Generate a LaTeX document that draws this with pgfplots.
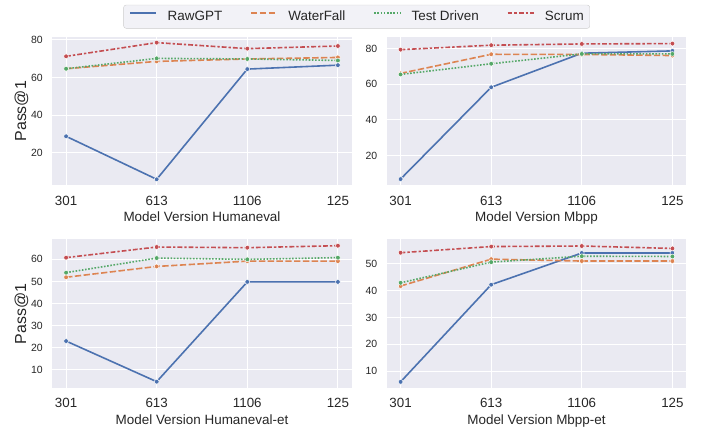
\documentclass[border=0pt]{standalone}
\usepackage{pgfplots}
\pgfplotsset{compat=1.18}
\usepackage{fontspec}
\setmainfont{Liberation Sans}

\definecolor{sbblue}{HTML}{4C72B0}
\definecolor{sborange}{HTML}{DD8452}
\definecolor{sbgreen}{HTML}{55A868}
\definecolor{sbred}{HTML}{C44E52}
\definecolor{sbbg}{HTML}{EAEAF2}
\definecolor{sbtext}{HTML}{262626}

\pgfplotsset{
  panel/.style={
    scale only axis, width=299bp, height=148.5bp,
    anchor=south west,
    axis background/.style={fill=sbbg},
    axis line style={draw=none},
    major tick length=0pt,
    grid=major, major grid style={white, line width=1bp},
    xmin=-0.15, xmax=3.15,
    xtick={0,1,2,3}, xticklabels={301,613,1106,125},
    /pgf/number format/assume math mode=true,
    xticklabel style={font=\fontsize{13.4}{15}\selectfont, text=sbtext, inner sep=0pt, anchor=north, yshift=-10bp},
    yticklabel style={font=\fontsize{10.5}{12}\selectfont, text=sbtext, inner sep=0pt, anchor=east, xshift=-9.5bp},
    every axis x label/.style={at={(axis description cs:0.5,0)}, anchor=north, yshift=-26bp,
      inner sep=0pt, font=\fontsize{13.5}{15}\selectfont, text=sbtext},
    every axis y label/.style={at={(axis description cs:-0.1037,0.5)}, anchor=center, rotate=90,
      inner sep=0pt, font=\fontsize{16}{18}\selectfont, text=sbtext},
    every axis plot/.append style={line width=1.6bp},
  },
  raw/.style={sbblue, solid, mark=*, mark size=2.4bp,
    mark options={solid, fill=sbblue, draw=white, line width=0.5bp}},
  wf/.style={sborange, dash pattern=on 6.4bp off 2.4bp, mark=*, mark size=2.4bp,
    mark options={solid, fill=sborange, draw=white, line width=0.5bp}},
  td/.style={sbgreen, dash pattern=on 1.6bp off 1.6bp, mark=*, mark size=2.4bp,
    mark options={solid, fill=sbgreen, draw=white, line width=0.5bp}},
  sc/.style={sbred, dash pattern=on 4.8bp off 2bp on 2.4bp off 2bp, mark=*, mark size=2.4bp,
    mark options={solid, fill=sbred, draw=white, line width=0.5bp}},
}

\begin{document}
\begin{tikzpicture}
% Humaneval
\begin{axis}[panel, at={(52.5bp,244.5bp)},
  ymin=2.5, ymax=81.6, ytick={20,40,60,80},
  xlabel={Model Version Humaneval}, ylabel={Pass@1},
  legend columns=4,
  legend image code/.code={\draw[#1] (0bp,3.7bp) -- (26bp,3.7bp);},
  legend style={at={(1.0174,1.1367)}, anchor=center,
    draw=black!20, fill=sbbg!60!white, rounded corners=2.5bp,
    inner xsep=6bp, inner ysep=5.4bp,
    font=\fontsize{13.5}{15}\selectfont, text=sbtext,
    nodes={inner sep=0pt, text height=9.7bp, text depth=2.8bp},
    /tikz/every odd column/.append style={column sep=10.5bp},
    /tikz/every even column/.append style={column sep=28bp}},
  ]
\addplot[raw] coordinates {(0,28.7) (1,5.8) (2,64.5) (3,66.6)};
\addplot[wf]  coordinates {(0,64.7) (1,68.6) (2,69.9) (3,70.7)};
\addplot[td]  coordinates {(0,64.7) (1,70.2) (2,69.9) (3,69.1)};
\addplot[sc]  coordinates {(0,71.3) (1,78.6) (2,75.4) (3,76.8)};
\legend{RawGPT, WaterFall, Test Driven, Scrum}
\end{axis}

% Mbpp
\begin{axis}[panel, at={(387bp,244.5bp)},
  ymin=3.2, ymax=86.5, ytick={20,40,60,80},
  xlabel={Model Version Mbpp}]
\addplot[raw] coordinates {(0,6.8) (1,58.3) (2,77.4) (3,78.7)};
\addplot[wf]  coordinates {(0,66.1) (1,76.8) (2,76.7) (3,76.1)};
\addplot[td]  coordinates {(0,65.5) (1,71.5) (2,77.0) (3,77.0)};
\addplot[sc]  coordinates {(0,79.4) (1,81.9) (2,82.6) (3,82.8)};
\end{axis}

% Humaneval-et
\begin{axis}[panel, at={(52.5bp,41.7bp)}, height=149bp,
  ymin=1.6, ymax=69.1, ytick={10,20,30,40,50,60},
  xlabel={Model Version Humaneval-et}, ylabel={Pass@1}]
\addplot[raw] coordinates {(0,23.0) (1,4.6) (2,49.8) (3,49.8)};
\addplot[wf]  coordinates {(0,51.9) (1,56.8) (2,59.2) (3,59.2)};
\addplot[td]  coordinates {(0,54.0) (1,60.6) (2,60.0) (3,60.8)};
\addplot[sc]  coordinates {(0,60.8) (1,65.6) (2,65.3) (3,66.2)};
\end{axis}

% Mbpp-et
\begin{axis}[panel, at={(387bp,41.7bp)}, height=149bp,
  ymin=3.6, ymax=59.1, ytick={10,20,30,40,50},
  xlabel={Model Version Mbpp-et}]
\addplot[raw] coordinates {(0,6.0) (1,42.2) (2,54.0) (3,54.0)};
\addplot[wf]  coordinates {(0,41.7) (1,51.7) (2,51.0) (3,51.0)};
\addplot[td]  coordinates {(0,42.9) (1,50.6) (2,52.8) (3,52.7)};
\addplot[sc]  coordinates {(0,54.1) (1,56.4) (2,56.6) (3,55.7)};
\end{axis}

\pgfresetboundingbox
\path (0,0) rectangle (708bp,430bp);
\end{tikzpicture}
\end{document}
